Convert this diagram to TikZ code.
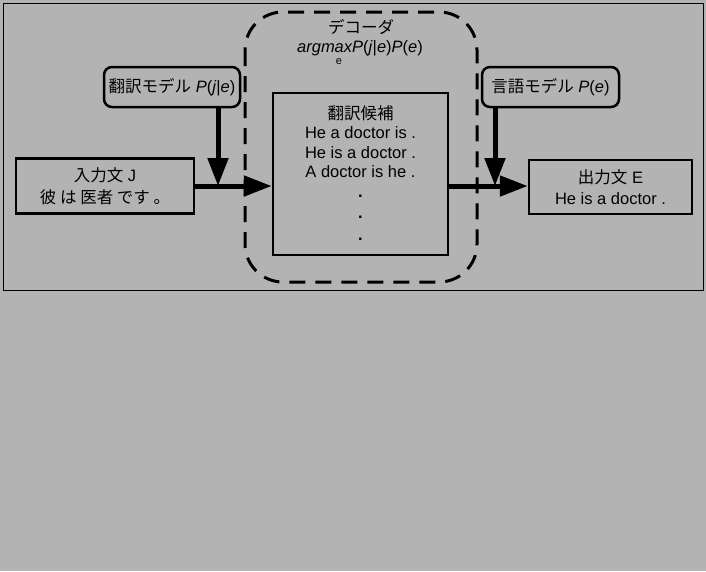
\documentclass[tikz,border=0pt]{standalone}
\usepackage{fontspec}
\setmainfont{Liberation Sans}
\newfontfamily\jp{Noto Sans CJK JP}
\usetikzlibrary{arrows.meta}
\begin{document}
\begin{tikzpicture}[x=1pt,y=-1pt,
  every node/.style={font=\fontsize{16.5}{19.5}\selectfont, inner sep=0pt, align=center},
  plainbox/.style={draw, line width=2.5pt},
  modelbox/.style={draw, line width=2.5pt, rounded corners=8pt},
  flow/.style={line width=5pt, -{Triangle[length=28pt,width=20pt]}}]
\fill[fill={rgb,255:red,179;green,179;blue,179}] (0,0) rectangle (706,571);
\useasboundingbox (0,0) rectangle (706,571);
\draw[line width=0.8pt] (3,3) rectangle (703,290);
\draw[dashed, line width=3pt, dash pattern=on 16pt off 10pt, rounded corners=38pt] (245,12) rectangle (477,282);
\node (title) at (361,27) {\jp デコーダ};
\node (argmax) at (360,48) {\textit{argmaxP}(\textit{j}|\textit{e})\textit{P}(\textit{e})};
\node[font=\fontsize{11}{12}\selectfont] (sub) at (339,62) {e};
\node[modelbox, minimum width=136pt, minimum height=40pt] (tm) at (172,87) {{\jp 翻訳モデル} \textit{P}(\textit{j}|\textit{e})};
\node[modelbox, minimum width=137pt, minimum height=40pt] (lm) at (550.5,87) {{\jp 言語モデル} \textit{P}(\textit{e})};
\node[plainbox, minimum width=178pt, minimum height=55pt] (in) at (105,186) {{\jp 入力文} J\\[2pt]{\jp 彼 は 医者 です 。}};
\node[plainbox, minimum width=163pt, minimum height=54pt] (out) at (610.5,187) {{\jp 出力文} E\\[1pt]He is a doctor .};
\node[plainbox, minimum width=175pt, minimum height=162pt] (cand) at (360.5,174) {};
\node[anchor=north] (candtext) at (360.5,105) {{\jp 翻訳候補}\\He a doctor is .\\He is a doctor .\\A doctor is he .\\\textbf{.}\\[2pt]\textbf{.}\\[2pt]\textbf{.}};
\coordinate (j1) at (218,186);
\coordinate (j2) at (495,186);
\draw[flow] (in.east |- j1) -- (cand.west |- j1);
\draw[flow] (cand.east |- j2) -- (out.west |- j2);
\draw[flow] (tm.south -| j1) -- (j1);
\draw[flow] (lm.south -| j2) -- (j2);
\end{tikzpicture}
\end{document}
